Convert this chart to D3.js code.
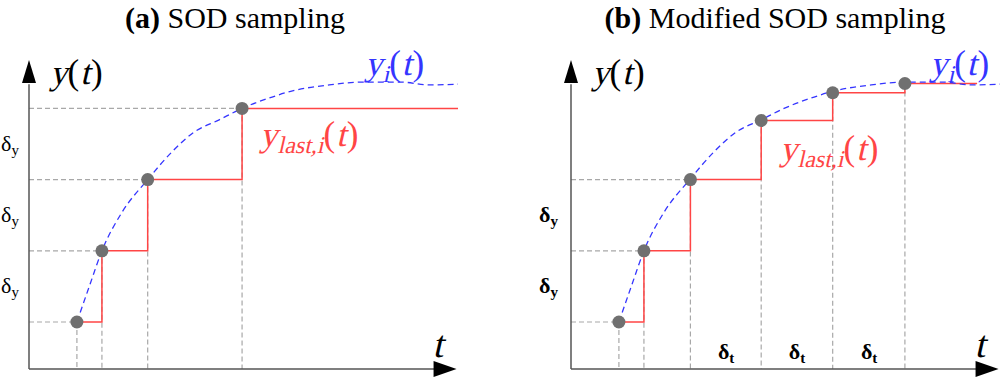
<!DOCTYPE html>
<html><head><meta charset="utf-8">
<script src="https://cdn.jsdelivr.net/npm/d3@7"></script>
<style>body{margin:0;background:#fff}svg{display:block}</style>
</head><body>
<svg id="c" width="1000" height="377"></svg>
<script>
// ---- data (t in δt units, y in δy units) ----
const curveT = [0.67, 0.85, 1.02, 1.3, 1.66, 2.0, 2.3, 2.66, 2.98, 3.4, 3.66, 4.2, 4.67, 5.2, 5.6, 6.0];
const curveY = [0.66, 1.18, 1.66, 2.2, 2.66, 3.05, 3.32, 3.5, 3.66, 3.82, 3.9, 3.99, 4.03, 4.03, 3.99, 4.0];
const sampleTA = [0.67, 1.02, 1.66, 2.98];
const sampleYA = [0.66, 1.66, 2.66, 3.66];
const stepEndA = 6.0;
const sampleTB = [0.67, 1.02, 1.67, 2.66, 3.66, 4.67];
const sampleYB = [0.66, 1.66, 2.66, 3.49, 3.88, 4.01];
const stepEndB = 5.68;
const gridLevelsB = 3;           // horizontal guides only for δy levels
const deltaYA = [1.16, 2.16, 3.16];
const deltaYB = [1.16, 2.16];
const deltaTB = [2.17, 3.16, 4.17];
const titles = [["(a)", " SOD sampling"], ["(b)", " Modified SOD sampling"]];

const svg = d3.select("#c");
const y = d3.scaleLinear().domain([0, 4.34]).range([369, 60]);
const xA = d3.scaleLinear().domain([0, 6]).range([29, 458]);
const xB = d3.scaleLinear().domain([0, 6]).range([571, 1000]);
const axisEnd = 5.98;

const serif = "Liberation Serif";
const gray = "#a8a8a8", blue = "#3535ff", red = "#ff4545";

// math-style text: runs laid out one by one, italic runs slanted by skew
function mathText(g, px, py, color, runs) {
  let cx = px;
  runs.forEach(r => {
    const t = g.append("text").attr("fill", color).attr("font-family", serif)
      .attr("font-size", r.size).text(r.t);
    const by = py + (r.dy || 0);
    t.attr("transform", `translate(${cx},${by})` + (r.it ? " skewX(-13)" : ""));
    cx += t.node().getComputedTextLength() + (r.gap || 0);
  });
}
function label(g, px, py, color, sub) {
  const runs = [{ t: "y", it: true, size: 35 }];
  if (sub) runs.push({ t: sub, it: true, size: 24, dy: 7 });
  runs.push({ t: "(", size: 35, gap: 1 }, { t: "t", it: true, size: 35, gap: 1 }, { t: ")", size: 35 });
  mathText(g, px, py, color, runs);
}

function panel(x, ts, ys, stepEnd, nGrid, dY, dT, boldDelta, title, titleX, dyX, labels) {
  const g = svg.append("g");
  ts.forEach((t, i) => {
    g.append("line").attr("x1", x(t)).attr("x2", x(t)).attr("y1", y(ys[i])).attr("y2", y(0))
      .attr("stroke", gray).attr("stroke-width", 1.2).attr("stroke-dasharray", "5,3");
    if (i < nGrid)
      g.append("line").attr("x1", x(0)).attr("x2", x(t)).attr("y1", y(ys[i])).attr("y2", y(ys[i]))
        .attr("stroke", gray).attr("stroke-width", 1.2).attr("stroke-dasharray", "5,3");
  });
  const stepPts = ts.map((t, i) => [t, ys[i]]).concat([[stepEnd, ys[ys.length - 1]]]);
  g.append("path").attr("d", d3.line().x(d => x(d[0])).y(d => y(d[1])).curve(d3.curveStepAfter)(stepPts))
    .attr("fill", "none").attr("stroke", red).attr("stroke-width", 1.5);
  const cPts = curveT.map((t, i) => [t, curveY[i]]);
  g.append("path").attr("d", d3.line().x(d => x(d[0])).y(d => y(d[1])).curve(d3.curveMonotoneX)(cPts))
    .attr("fill", "none").attr("stroke", blue).attr("stroke-width", 1.3).attr("stroke-dasharray", "6,4");
  ts.forEach((t, i) => g.append("circle").attr("cx", x(t)).attr("cy", y(ys[i])).attr("r", 6.5).attr("fill", "#707070"));
  g.append("line").attr("x1", x(0)).attr("x2", x(0)).attr("y1", y(0)).attr("y2", y(4.0)).attr("stroke", "#555").attr("stroke-width", 1.5);
  g.append("line").attr("x1", x(0)).attr("x2", x(axisEnd) - 20).attr("y1", y(0)).attr("y2", y(0)).attr("stroke", "#555").attr("stroke-width", 1.5);
  const tipY = y.range()[1];
  g.append("path").attr("d", `M${x(0)},${tipY} L${x(0) - 7},${tipY + 23} L${x(0) + 7},${tipY + 23} Z`).attr("fill", "#000");
  const tipX = x(axisEnd);
  g.append("path").attr("d", `M${tipX},${y(0)} L${tipX - 23},${y(0) - 8} L${tipX - 23},${y(0) + 8} Z`).attr("fill", "#000");
  const fw = boldDelta ? "bold" : "normal";
  dY.forEach(v => {
    const t = g.append("text").attr("x", dyX).attr("y", y(v) + 7).attr("text-anchor", "start")
      .attr("font-family", serif).attr("font-size", 22).attr("font-weight", fw);
    t.append("tspan").text("δ");
    t.append("tspan").attr("font-size", 15).attr("dy", 4).text("y");
  });
  dT.forEach(v => {
    const t = g.append("text").attr("x", x(v)).attr("y", 359).attr("text-anchor", "middle")
      .attr("font-family", serif).attr("font-size", 22).attr("font-weight", fw);
    t.append("tspan").text("δ");
    t.append("tspan").attr("font-size", 15).attr("dy", 4).text("t");
  });
  const tt = g.append("text").attr("x", titleX).attr("y", 28).attr("text-anchor", "middle")
    .attr("font-family", serif).attr("font-size", 30);
  tt.append("tspan").attr("font-weight", "bold").text(title[0]);
  tt.append("tspan").text(title[1]);
  label(g, labels[0][0], labels[0][1], "#000", null);
  label(g, labels[1][0], labels[1][1], blue, "i");
  label(g, labels[2][0], labels[2][1], red, "last,i");
  mathText(g, x(axisEnd) - 24, 357, "#000", [{ t: "t", it: true, size: 38 }]);
}

panel(xA, sampleTA, sampleYA, stepEndA, sampleTA.length, deltaYA, [], false, titles[0], 235, 1,
  [[50, 84], [365, 75], [260, 146]]);
panel(xB, sampleTB, sampleYB, stepEndB, gridLevelsB, deltaYB, deltaTB, true, titles[1], 775, 539,
  [[592, 84], [930, 75], [780, 160]]);
</script>
</body></html>
